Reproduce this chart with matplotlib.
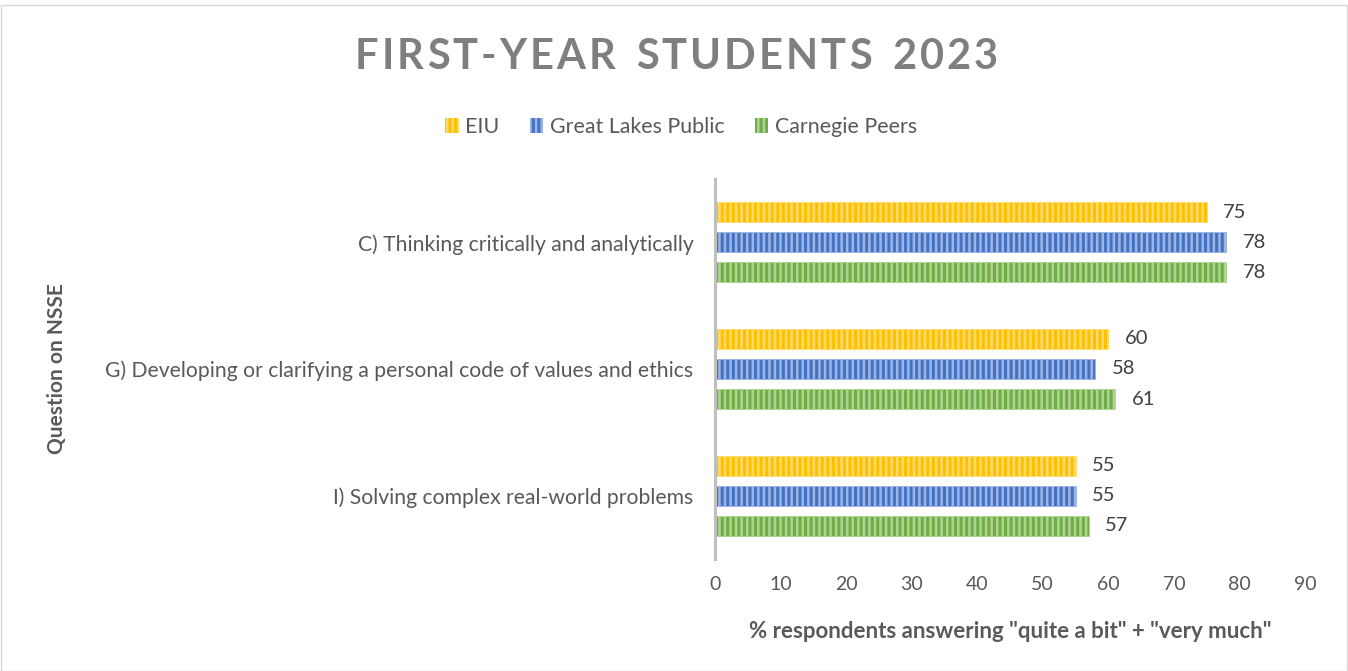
import matplotlib
matplotlib.use("Agg")
import matplotlib.pyplot as plt
from matplotlib.patches import Patch, Rectangle
import numpy as np

categories = ["C) Thinking critically and analytically",
              "G) Developing or clarifying a personal code of values and ethics",
              "I) Solving complex real-world problems"]
series_names = ["EIU", "Great Lakes Public", "Carnegie Peers"]
eiu = [75, 60, 55]
great_lakes = [78, 58, 55]
carnegie = [78, 61, 57]
xticks = [0, 10, 20, 30, 40, 50, 60, 70, 80, 90]

colors = ["#FFC000", "#4472C4", "#70AD47"]
stripe = ["#FFDB6E", "#9DB5E3", "#AED492"]
txt = "#595959"
FONT = ["Lato", "DejaVu Sans"]

plt.rcParams['font.family'] = FONT
plt.rcParams['hatch.linewidth'] = 1.8

W, H = 1348, 671
fig = plt.figure(figsize=(W / 100, H / 100), dpi=100)
fig.patch.set_facecolor("white")
fig.patches.append(Rectangle((0.5 / W, 0.5 / H), 1 - 2 / W, 1 - 5 / H, transform=fig.transFigure,
                             fill=False, edgecolor="#D9D9D9", linewidth=1))

ax = fig.add_axes([715 / W, 1 - 559 / H, (1305 - 715) / W, (559 - 179) / H])
vals = [eiu, great_lakes, carnegie]
y = np.arange(len(categories))
off = 0.237
hgt = 0.16
for k, (v, c, s) in enumerate(zip(vals, colors, stripe)):
    ax.barh(y + (k - 1) * off, v, height=hgt, color=c, edgecolor=s,
            hatch="|||", linewidth=0.6, zorder=2)
    for yi, vi in zip(y + (k - 1) * off, v):
        ax.annotate(f"{vi}", (vi, yi), xytext=(12, 0), textcoords="offset points",
                    va="center", ha="left", fontsize=14.5, color="#404040")

ax.set_xlim(0, 90)
ax.set_ylim(2.5, -0.5)
ax.set_xticks(xticks)
ax.set_xticklabels([str(t) for t in xticks], fontsize=14, color=txt)
ax.set_yticks(y)
ax.set_yticklabels(categories, fontsize=15.2, color=txt)
ax.tick_params(axis="both", length=0)
ax.tick_params(axis="x", pad=12)
ax.tick_params(axis="y", pad=15.5)
for sp in ["top", "right", "bottom"]:
    ax.spines[sp].set_visible(False)
ax.spines["left"].set_color("#BFBFBF")
ax.spines["left"].set_linewidth(2.2)
ax.spines["left"].set_zorder(3)
ax.set_facecolor("none")

fig.text(1010 / W, 1 - 632 / H, '% respondents answering "quite a bit" + "very much"',
         ha="center", va="center", fontsize=16, fontweight="bold", color=txt)
fig.text(57 / W, 1 - 369 / H, "Question on NSSE", rotation=90, ha="center", va="center",
         fontsize=15, fontweight="bold", color=txt)

handles = [Patch(facecolor=c, edgecolor=s, hatch="|||", linewidth=0) for c, s in zip(colors, stripe)]
fig.legend(handles, series_names, loc="center", bbox_to_anchor=(681 / W, 1 - 127 / H), ncol=3,
           frameon=False, fontsize=15.4, handlelength=0.65, handleheight=0.65, handletextpad=0.3,
           columnspacing=1.4, labelcolor=txt)

# title with letter spacing
title = "FIRST-YEAR STUDENTS 2023"
fig.canvas.draw()
r = fig.canvas.get_renderer()
fs = 30
widths = []
for ch in title:
    t = fig.text(0, 0, ch if ch != " " else "I", fontsize=fs, fontweight="bold")
    wpx = t.get_window_extent(r).width
    if ch == " ":
        wpx *= 1.2
    widths.append(wpx)
    t.remove()
x0, x1 = 355, 998
extra = ((x1 - x0) - sum(widths)) / (len(title) - 1)
xp = x0
for ch, wpx in zip(title, widths):
    if ch != " ":
        fig.text(xp / W, 1 - 57 / H, ch, fontsize=fs, fontweight="bold", color="#7F7F7F",
                 ha="left", va="center")
    xp += wpx + extra

fig.savefig("out.png", dpi=100)
